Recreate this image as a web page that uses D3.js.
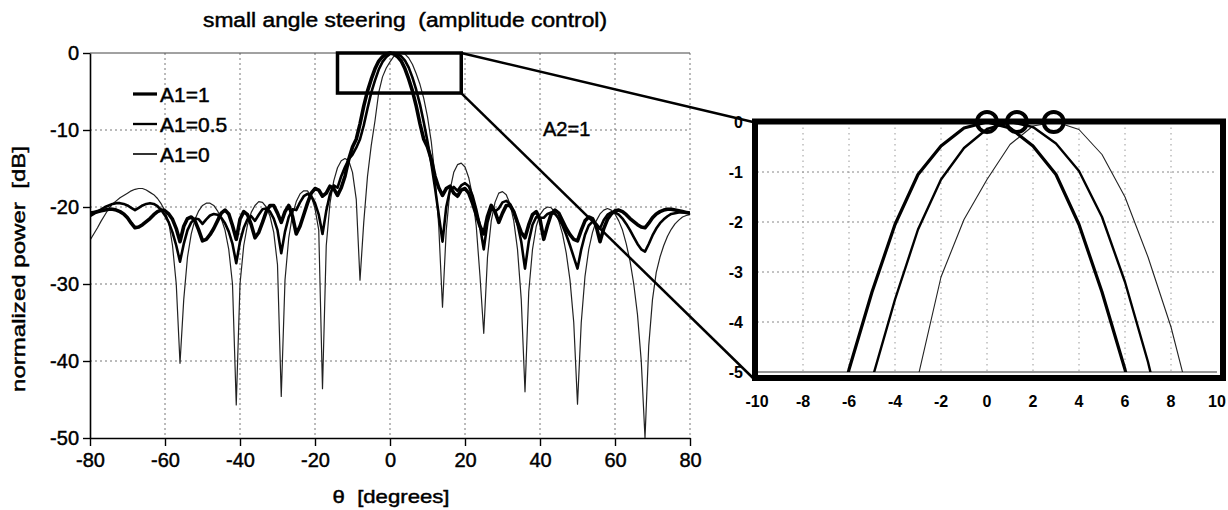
<!DOCTYPE html>
<html>
<head>
<meta charset="utf-8">
<script src="https://cdn.jsdelivr.net/npm/d3@7"></script>
<style>
  body { margin: 0; background: #fff; }
  svg { display: block; }
  text { font-family: Arial, "Liberation Sans", sans-serif; fill: #000; white-space: pre; }
  .heavy { stroke: #000; stroke-width: 0.45px; }
</style>
</head>
<body>
<svg id="chart" width="1228" height="510"></svg>
<script>
// Steering angle samples, 1 degree apart
const theta = d3.range(-80, 81, 1);

// Normalized power [dB] for each amplitude setting of element group 1 (A2 = 1)
const powerA1_1 = [
  -20.8, -20.7, -20.6, -20.5, -20.4, -20.3, -20.3, -20.4, -20.6, -20.9,
  -21.4, -22.1, -22.7, -22.6, -22.3, -21.9, -21.5, -21.0, -20.6, -20.4,
  -20.5, -20.9, -21.6, -22.8, -24.5, -22.5, -21.5, -21.3, -21.8, -23.0,
  -24.4, -24.2, -23.6, -22.8, -21.8, -20.8, -20.4, -20.9, -22.4, -24.2,
  -21.6, -20.6, -21.0, -22.3, -24.0, -23.3, -22.0, -20.6, -19.8, -19.8,
  -20.8, -22.0, -20.6, -19.8, -21.2, -23.5, -22.5, -21.0, -19.5, -18.2,
  -17.6, -17.8, -18.6, -18.2, -17.3, -17.6, -18.5, -17.5, -16.0, -13.8,
  -12.2, -11.2, -9.2, -6.9, -4.95, -3.4, -2.05, -1.05, -0.48, -0.12,
  0,
  -0.12, -0.48, -1.05, -2.05, -3.4, -4.95, -6.9, -9.2, -11.2, -12.2,
  -13.8, -16.0, -17.5, -18.5, -17.6, -17.3, -18.2, -18.6, -17.8, -17.6,
  -18.2, -19.5, -21.0, -22.5, -23.5, -21.2, -19.8, -20.6, -22.0, -20.8,
  -19.8, -19.8, -20.6, -22.0, -23.3, -24.0, -22.3, -21.0, -20.6, -21.6,
  -24.2, -22.4, -20.9, -20.4, -20.8, -21.8, -22.8, -23.6, -24.2, -24.4,
  -23.0, -21.8, -21.3, -21.5, -22.5, -24.5, -22.8, -21.6, -20.9, -20.5,
  -20.4, -20.6, -21.0, -21.5, -21.9, -22.3, -22.6, -22.7, -22.1, -21.4,
  -20.9, -20.6, -20.4, -20.3, -20.3, -20.4, -20.5, -20.6, -20.7, -20.8
];
const powerA1_05 = [
  -21.2, -20.9, -20.6, -20.3, -20.0, -19.8, -19.6, -19.5, -19.5, -19.6,
  -19.8, -20.1, -20.4, -20.1, -19.8, -19.6, -19.5, -19.6, -19.9, -20.4,
  -21.1, -22.0, -23.3, -25.0, -27.1, -24.8, -23.0, -22.0, -21.5, -21.6,
  -22.2, -21.6, -21.1, -20.9, -21.0, -21.4, -22.1, -23.2, -24.8, -27.3,
  -24.5, -22.7, -21.6, -21.2, -21.8, -21.0, -20.3, -20.2, -20.6, -21.5,
  -23.0, -26.0, -23.2, -21.3, -20.3, -20.4, -19.4, -18.6, -18.3, -18.6,
  -19.5, -21.0, -23.5, -20.5, -18.3, -17.2, -17.5, -16.0, -14.8, -13.8,
  -13.2, -12.3, -11.2, -9.4, -7.2, -5.15, -3.55, -2.15, -1.15, -0.52,
  -0.14,
  0, -0.1, -0.43, -0.98, -1.9, -3.2, -4.8, -6.7, -9.0, -11.5,
  -14.3, -17.5, -21.0, -24.5, -20.0, -17.8, -17.4, -17.9, -17.2, -16.9,
  -17.3, -18.5, -20.3, -22.5, -25.5, -22.0, -20.2, -20.6, -20.2, -19.4,
  -19.2, -19.6, -20.6, -22.2, -24.5, -28.0, -24.5, -22.3, -21.3, -21.4,
  -21.4, -20.9, -20.7, -20.9, -21.5, -22.4, -23.6, -25.0, -26.5, -28.0,
  -25.5, -23.6, -22.4, -21.9, -22.2, -22.8, -21.7, -21.0, -20.7, -20.7,
  -21.0, -21.5, -22.2, -23.0, -23.9, -24.8, -25.5, -25.8, -24.8, -23.7,
  -22.8, -22.1, -21.6, -21.2, -20.9, -20.8, -20.7, -20.7, -20.7, -20.8
];
const powerA1_0 = [
  -24.3, -23.5, -22.7, -21.8, -21.0, -20.2, -19.6, -19.2, -18.8, -18.5,
  -18.2, -17.9, -17.7, -17.6, -17.6, -17.8, -18.1, -18.4, -18.9, -19.6,
  -20.5, -22.0, -25.0, -30.0, -40.3, -32.0, -26.5, -23.5, -21.6, -20.5,
  -19.8, -19.5, -19.5, -19.8, -20.5, -21.5, -23.0, -25.5, -30.0, -45.7,
  -30.0, -25.0, -22.3, -20.7, -19.8, -19.3, -19.4, -20.0, -21.2, -23.3,
  -27.5, -44.6, -29.5, -24.0, -21.0, -19.3, -18.3, -17.9, -17.9, -18.6,
  -20.2, -23.0, -43.6, -25.0, -19.5, -16.6, -14.9, -14.0, -13.7, -14.0,
  -15.5, -19.0, -29.5, -22.0, -16.0, -12.0, -8.8, -5.1, -3.1, -1.95,
  -1.15,
  -0.45, -0.08, 0, -0.15, -0.65, -1.5, -2.7, -4.1, -5.9, -8.3,
  -11.5, -16.0, -22.5, -33.0, -23.0, -17.8, -15.5, -14.5, -14.3, -14.8,
  -16.2, -18.6, -22.5, -29.0, -36.4, -26.5, -21.8, -19.4, -18.2, -18.0,
  -18.4, -19.6, -21.8, -25.5, -32.0, -44.0, -31.0, -25.5, -22.5, -21.0,
  -20.3, -20.0, -20.1, -20.7, -21.8, -23.5, -26.0, -29.5, -35.0, -45.6,
  -35.0, -29.0, -25.5, -23.3, -21.8, -20.9, -20.4, -20.2, -20.4, -20.9,
  -21.8, -23.0, -24.8, -27.0, -30.0, -34.0, -40.0, -50.0, -38.0, -32.0,
  -28.5, -26.5, -25.0, -23.8, -22.9, -22.2, -21.7, -21.3, -21.1, -21.0
];

const seriesLabels = ["A1=1", "A1=0.5", "A1=0"];
const mainXTicks = [-80, -60, -40, -20, 0, 20, 40, 60, 80];
const mainYTicks = [0, -10, -20, -30, -40, -50];
const insetXTicks = [-10, -8, -6, -4, -2, 0, 2, 4, 6, 8, 10];
const insetYTicks = [0, -1, -2, -3, -4, -5];
const peakAngles = [0, 1.3, 2.9];          // beam peaks marked in the close-up
const zoomTheta = [-14, 19];               // magnified region, degrees
const zoomPower = [0, -5.2];               // magnified region, dB

const series = [
  { label: seriesLabels[0], values: powerA1_1, main: 3.6, inset: 3.2, color: "#000" },
  { label: seriesLabels[1], values: powerA1_05, main: 2.6, inset: 2.4, color: "#000" },
  { label: seriesLabels[2], values: powerA1_0, main: 1.2, inset: 1.1, color: "#222" }
];

const plain = d => String(d);   // hyphen-minus labels
const svg = d3.select("#chart");

// ---------- main pattern, -80..80 degrees ----------
const x = d3.scaleLinear().domain([-80, 80]).range([90, 690]);
const y = d3.scaleLinear().domain([-50, 0]).range([438, 53]);

const grid = svg.append("g");
grid.selectAll("line.h").data(mainYTicks.filter(v => v < 0 && v > -50)).join("line")
  .attr("x1", x(-80)).attr("x2", x(80))
  .attr("y1", d => y(d)).attr("y2", d => y(d))
  .attr("stroke", "#777").attr("stroke-width", 1).attr("stroke-dasharray", "2,3");
grid.selectAll("line.v").data(mainXTicks.filter(v => v > -80)).join("line")
  .attr("x1", d => x(d)).attr("x2", d => x(d))
  .attr("y1", y(0)).attr("y2", y(-50))
  .attr("stroke", "#777").attr("stroke-width", 1).attr("stroke-dasharray", "2,3");
grid.append("line")
  .attr("x1", x(-80)).attr("x2", x(80)).attr("y1", y(0)).attr("y2", y(0))
  .attr("stroke", "#444").attr("stroke-width", 1);

svg.append("clipPath").attr("id", "mainClip").append("rect")
  .attr("x", x(-80)).attr("y", y(0) - 3).attr("width", x(80) - x(-80)).attr("height", y(-50) - y(0) + 3);

const mainLine = d3.line().x((d, i) => x(theta[i])).y(d => y(d));
const mainG = svg.append("g").attr("clip-path", "url(#mainClip)");
series.slice().reverse().forEach(s => {
  mainG.append("path").datum(s.values)
    .attr("d", mainLine).attr("fill", "none").attr("stroke", s.color)
    .attr("stroke-width", s.main).attr("stroke-linejoin", "round");
});

const xAxis = svg.append("g").attr("transform", `translate(0,${y(-50)})`)
  .call(d3.axisBottom(x).tickValues(mainXTicks).tickFormat(plain)
    .tickSize(8).tickPadding(7).tickSizeOuter(0));
const yAxis = svg.append("g").attr("transform", `translate(${x(-80)},0)`)
  .call(d3.axisLeft(y).tickValues(mainYTicks).tickFormat(plain)
    .tickSize(7).tickPadding(4).tickSizeOuter(0));
[xAxis, yAxis].forEach(g => {
  g.select(".domain").attr("stroke", "#000").attr("stroke-width", 1.6);
  g.selectAll(".tick line").attr("stroke", "#000").attr("stroke-width", 1.4);
  g.selectAll(".tick text").attr("class", "heavy").style("font-size", "20px").attr("fill", "#000");
});

// zoom window in the main pattern
svg.append("rect")
  .attr("x", x(zoomTheta[0])).attr("y", y(zoomPower[0]))
  .attr("width", x(zoomTheta[1]) - x(zoomTheta[0]))
  .attr("height", y(zoomPower[1]) - y(zoomPower[0]))
  .attr("fill", "none").attr("stroke", "#000").attr("stroke-width", 3.5);

// legend
const legend = svg.append("g");
series.forEach((s, i) => {
  const ly = 94 + i * 30;
  legend.append("line").attr("x1", 133).attr("x2", 157).attr("y1", ly).attr("y2", ly)
    .attr("stroke", "#000").attr("stroke-width", Math.max(1.6, s.main * 0.9));
  legend.append("text").attr("class", "heavy").attr("x", 160).attr("y", ly).attr("dy", "0.36em")
    .style("font-size", "21px").text(s.label);
});

svg.append("text").attr("class", "heavy").attr("x", 543).attr("y", 136)
  .style("font-size", "20px").text("A2=1");

svg.append("text").attr("class", "heavy").attr("x", 405).attr("y", 27).attr("text-anchor", "middle")
  .attr("textLength", 404).attr("lengthAdjust", "spacingAndGlyphs")
  .style("font-size", "20px").text("small angle steering  (amplitude control)");

svg.append("text").attr("class", "heavy").attr("x", 391).attr("y", 503).attr("text-anchor", "middle")
  .attr("textLength", 117).attr("lengthAdjust", "spacingAndGlyphs")
  .style("font-size", "19px").text("θ  [degrees]");

svg.append("text").attr("class", "heavy").attr("transform", "translate(25,269) rotate(-90)")
  .attr("text-anchor", "middle").attr("textLength", 246).attr("lengthAdjust", "spacingAndGlyphs")
  .style("font-size", "19px").text("normalized power  [dB]");

// ---------- close-up of the main beam, -10..10 degrees ----------
const xi = d3.scaleLinear().domain([-10, 10]).range([757, 1217]);
const yi = d3.scaleLinear().domain([-5, 0]).range([372, 122]);

const igrid = svg.append("g");
igrid.selectAll("line.h").data(insetYTicks.filter(v => v < 0 && v > -5)).join("line")
  .attr("x1", xi(-10)).attr("x2", xi(10))
  .attr("y1", d => yi(d)).attr("y2", d => yi(d))
  .attr("stroke", "#888").attr("stroke-width", 1).attr("stroke-dasharray", "2,3");
igrid.selectAll("line.v").data(insetXTicks.filter(v => v > -10 && v < 10)).join("line")
  .attr("x1", d => xi(d)).attr("x2", d => xi(d))
  .attr("y1", yi(0)).attr("y2", yi(-5))
  .attr("stroke", "#999").attr("stroke-width", 1).attr("stroke-dasharray", "1.5,4");
igrid.append("line")
  .attr("x1", xi(-10)).attr("x2", xi(10)).attr("y1", yi(-5)).attr("y2", yi(-5))
  .attr("stroke", "#333").attr("stroke-width", 1.2);

svg.append("clipPath").attr("id", "insetClip").append("rect")
  .attr("x", xi(-10)).attr("y", yi(0)).attr("width", xi(10) - xi(-10)).attr("height", yi(-5) - yi(0));

const insetLine = d3.line().x((d, i) => xi(theta[i])).y(d => yi(d));
const insetG = svg.append("g").attr("clip-path", "url(#insetClip)");
series.slice().reverse().forEach(s => {
  insetG.append("path").datum(s.values)
    .attr("d", insetLine).attr("fill", "none").attr("stroke", s.color)
    .attr("stroke-width", s.inset).attr("stroke-linejoin", "round");
});

// frame around the close-up
svg.append("rect")
  .attr("x", xi(-10) - 2).attr("y", yi(0) - 0.5)
  .attr("width", xi(10) - xi(-10) + 8).attr("height", yi(-5) - yi(0) + 6.5)
  .attr("fill", "none").attr("stroke", "#000").attr("stroke-width", 6);

svg.append("g").selectAll("circle").data(peakAngles).join("circle")
  .attr("cx", d => xi(d)).attr("cy", yi(0)).attr("r", 10)
  .attr("fill", "none").attr("stroke", "#000").attr("stroke-width", 4);

svg.append("g").selectAll("text").data(insetXTicks).join("text")
  .attr("x", d => xi(d)).attr("y", 407).attr("text-anchor", "middle")
  .style("font-size", "16px").style("font-weight", "bold").text(plain);
svg.append("g").selectAll("text").data(insetYTicks).join("text")
  .attr("x", 743).attr("y", d => yi(d)).attr("dy", "0.36em").attr("text-anchor", "end")
  .style("font-size", "16px").style("font-weight", "bold").text(plain);

// leader lines from the zoom window to the close-up
const leaders = [
  [[x(zoomTheta[1]), y(zoomPower[0])], [xi(-10) - 4, yi(0)]],
  [[x(zoomTheta[1]), y(zoomPower[1])], [xi(-10) - 4, yi(-5) + 6]]
];
svg.append("g").selectAll("line").data(leaders).join("line")
  .attr("x1", d => d[0][0]).attr("y1", d => d[0][1])
  .attr("x2", d => d[1][0]).attr("y2", d => d[1][1])
  .attr("stroke", "#000").attr("stroke-width", 2.5);
</script>
</body>
</html>
